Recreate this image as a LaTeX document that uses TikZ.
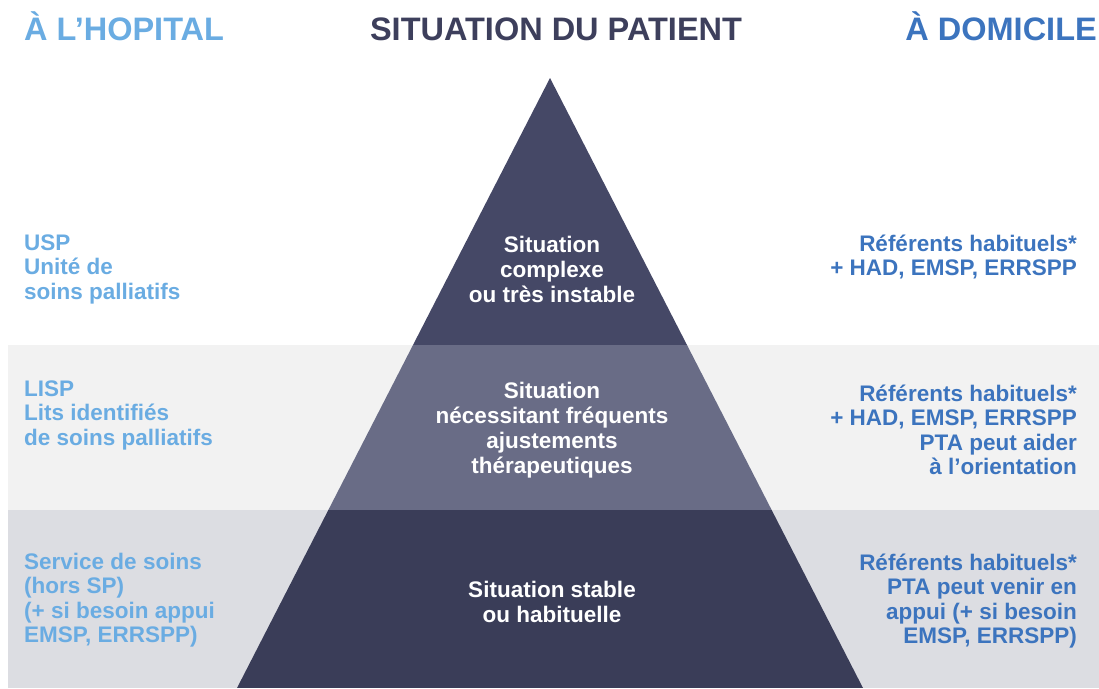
\documentclass[tikz,border=0pt]{standalone}
\usepackage{fontspec}
\setmainfont{Liberation Sans}
\usetikzlibrary{positioning}

\definecolor{hopBlue}{HTML}{6AACE2}
\definecolor{domBlue}{HTML}{3C74BE}
\definecolor{patientDark}{HTML}{3D3F5C}
\definecolor{triTop}{HTML}{454866}
\definecolor{triMid}{HTML}{696C86}
\definecolor{triBas}{HTML}{3A3D58}
\definecolor{bandMid}{HTML}{F2F2F2}
\definecolor{bandBas}{HTML}{DCDDE2}

\tikzset{
  header/.style={inner sep=0pt, font=\fontsize{32.5}{36}\selectfont\bfseries},
  hoptext/.style={inner sep=0pt, anchor=west, align=left, text=hopBlue,
    font=\fontsize{22.5}{24.5}\selectfont\bfseries},
  domtext/.style={inner sep=0pt, anchor=east, align=right, text=domBlue,
    font=\fontsize{22.5}{24.5}\selectfont\bfseries},
  sittext/.style={inner sep=0pt, align=center, text=white,
    font=\fontsize{22.5}{25}\selectfont\bfseries},
}

\begin{document}
\begin{tikzpicture}[x=1pt,y=-1pt]

\useasboundingbox (0,0) rectangle (1099,688);

\def\bandA{345}
\def\bandB{510}

\coordinate (apex) at (550,78);
\coordinate (BL) at (237,688);
\coordinate (BR) at (863,688);

% bandes de fond
\fill[bandMid] (8,\bandA) rectangle (1099,\bandB);
\fill[bandBas] (8,\bandB) rectangle (1099,688);

% pyramide
\begin{scope}
\clip (apex) -- (BL) -- (BR) -- cycle;
\fill[triTop] (0,0) rectangle (1099,\bandA);
\fill[triMid] (0,\bandA) rectangle (1099,\bandB);
\fill[triBas] (0,\bandB) rectangle (1099,688);
\end{scope}

% titres
\node[header, anchor=base west, text=hopBlue] (hopital) at (24,40) {À L’HOPITAL};
\node[header, anchor=base, text=patientDark] (patient) at (556,40) {SITUATION DU PATIENT};
\node[header, anchor=base east, text=domBlue] (domicile) at (1097,40) {À DOMICILE};

% hopital
\node[hoptext] (usp) at (24,269) {USP\\Unité de\\soins palliatifs};
\node[hoptext] (lisp) at (24,415) {LISP\\Lits identifiés\\de soins palliatifs};
\node[hoptext] (service) at (24,600) {Service de soins\\(hors SP)\\(+ si besoin appui\\EMSP, ERRSPP)};

% situation
\node[sittext] (sitTop) at (552,269) {Situation\\complexe\\ou très instable};
\node[sittext] (sitMid) at (552,430) {Situation\\nécessitant fréquents\\ajustements\\thérapeutiques};
\node[sittext] (sitBas) at (552,602) {Situation stable\\ou habituelle};

% domicile
\node[domtext] (domTop) at (1077,257) {Référents habituels*\\+ HAD, EMSP, ERRSPP};
\node[domtext] (domMid) at (1077,430) {Référents habituels*\\+ HAD, EMSP, ERRSPP\\PTA peut aider\\à l’orientation};
\node[domtext] (domBas) at (1077,601) {Référents habituels*\\PTA peut venir en\\appui (+ si besoin\\EMSP, ERRSPP)};

\end{tikzpicture}
\end{document}
